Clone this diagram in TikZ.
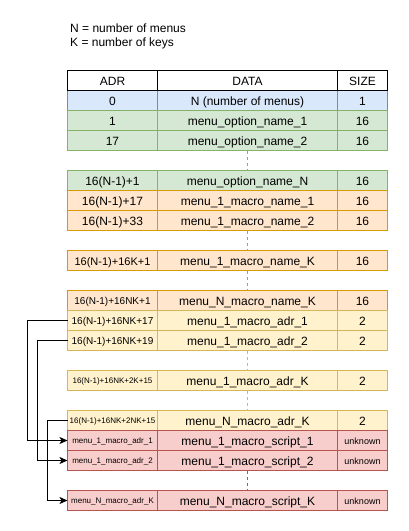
\documentclass[tikz,border=0pt]{standalone}
\usepackage{fontspec}
\setmainfont{Liberation Sans}
\usetikzlibrary{arrows.meta}
\definecolor{bluefill}{HTML}{DAE8FC}\definecolor{blueline}{HTML}{6C8EBF}
\definecolor{greenfill}{HTML}{D5E8D4}\definecolor{greenline}{HTML}{82B366}
\definecolor{orangefill}{HTML}{FFE6CC}\definecolor{orangeline}{HTML}{D79B00}
\definecolor{yellowfill}{HTML}{FFF2CC}\definecolor{yellowline}{HTML}{D6B656}
\definecolor{redfill}{HTML}{F8CECC}\definecolor{redline}{HTML}{B85450}
\tikzset{
  cell/.style={draw, line width=1pt, inner sep=0pt, outer sep=0pt, minimum height=20pt, anchor=center},
  f12/.style={font=\fontsize{12}{14}\selectfont, text height=10.1pt, text depth=0pt},
  f11/.style={font=\fontsize{11}{13}\selectfont, text height=9.2pt, text depth=0pt},
  f10/.style={font=\fontsize{10}{12}\selectfont, text height=8.4pt, text depth=0pt},
  f9/.style={font=\fontsize{9}{11}\selectfont, text height=7.6pt, text depth=0pt},
  f8/.style={font=\fontsize{8}{10}\selectfont, text height=6.7pt, text depth=0pt},
  hdrrow/.style={fill=white, draw=black},
  bluerow/.style={fill=bluefill, draw=blueline},
  greenrow/.style={fill=greenfill, draw=greenline},
  orangerow/.style={fill=orangefill, draw=orangeline},
  yellowrow/.style={fill=yellowfill, draw=yellowline},
  redrow/.style={fill=redfill, draw=redline},
  gapline/.style={line width=1pt, dash pattern=on 3pt off 3pt},
  arrowline/.style={draw=black, line width=1pt, -{Stealth[length=8pt,width=7pt,inset=2pt]}},
}
% #1 name, #2 top y, #3 row style, #4 adr font style, #5 adr text, #6 data text, #7 size font style, #8 size text
\newcommand{\mrow}[8]{%
  \node[cell,#3,#4,minimum width=90pt] (#1a) at (112.5,#2+10) {#5};
  \node[cell,#3,f12,minimum width=180pt] (#1d) at (247.5,#2+10) {#6};
  \node[cell,#3,#7,minimum width=50pt] (#1s) at (362.5,#2+10) {#8};
}
\begin{document}
\begin{tikzpicture}[x=1pt,y=-1pt]
\useasboundingbox (0,0) rectangle (408,531);
\node[anchor=north west, align=left, inner sep=0pt, font=\fontsize{12}{14.5}\selectfont] (legend) at (70,23.3)
  {N = number of menus\\K = number of keys};
\mrow{r0}{90.5}{bluerow}{f12}{0}{N (number of menus)}{f12}{1}
\mrow{hd}{70.5}{hdrrow}{f12}{ADR}{DATA}{f12}{SIZE}
\mrow{r1}{110.5}{greenrow}{f12}{1}{menu\_option\_name\_1}{f12}{16}
\mrow{r2}{130.5}{greenrow}{f12}{17}{menu\_option\_name\_2}{f12}{16}
\mrow{r3}{170.5}{greenrow}{f12}{16(N-1)+1}{menu\_option\_name\_N}{f12}{16}
\mrow{r4}{190.5}{orangerow}{f12}{16(N-1)+17}{menu\_1\_macro\_name\_1}{f12}{16}
\mrow{r5}{210.5}{orangerow}{f12}{16(N-1)+33}{menu\_1\_macro\_name\_2}{f12}{16}
\mrow{r6}{250.5}{orangerow}{f11}{16(N-1)+16K+1}{menu\_1\_macro\_name\_K}{f12}{16}
\mrow{r7}{290.5}{orangerow}{f10}{16(N-1)+16NK+1}{menu\_N\_macro\_name\_K}{f12}{16}
\mrow{r8}{310.5}{yellowrow}{f10}{16(N-1)+16NK+17}{menu\_1\_macro\_adr\_1}{f12}{2}
\mrow{r9}{330.5}{yellowrow}{f10}{16(N-1)+16NK+19}{menu\_1\_macro\_adr\_2}{f12}{2}
\mrow{r10}{370.5}{yellowrow}{f8}{16(N-1)+16NK+2K+15}{menu\_1\_macro\_adr\_K}{f12}{2}
\mrow{r11}{410.5}{yellowrow}{f8}{16(N-1)+16NK+2NK+15}{menu\_N\_macro\_adr\_K}{f12}{2}
\mrow{r12}{430.5}{redrow}{f8}{menu\_1\_macro\_adr\_1}{menu\_1\_macro\_script\_1}{f9}{unknown}
\mrow{r13}{450.5}{redrow}{f8}{menu\_1\_macro\_adr\_2}{menu\_1\_macro\_script\_2}{f9}{unknown}
\mrow{r14}{490.5}{redrow}{f8}{menu\_N\_macro\_adr\_K}{menu\_N\_macro\_script\_K}{f9}{unknown}
% dashed gaps
\draw[gapline, draw=greenline] (r2d.south) -- (r3d.north);
\draw[gapline, draw=orangeline] (r5d.south) -- (r6d.north);
\draw[gapline, draw=orangeline] (r6d.south) -- (r7d.north);
\draw[gapline, draw=yellowline] (r9d.south) -- (r10d.north);
\draw[gapline, draw=yellowline] (r10d.south) -- (r11d.north);
\draw[gapline, draw=redline] (r13d.south) -- (r14d.north);
% pointer arrows
\draw[arrowline] (r8a.west) -- ++(-40,0) |- (r12a.west);
\draw[arrowline] (r9a.west) -- ++(-30,0) |- (r13a.west);
\draw[arrowline] (r11a.west) -- ++(-20,0) |- (r14a.west);
\end{tikzpicture}
\end{document}
